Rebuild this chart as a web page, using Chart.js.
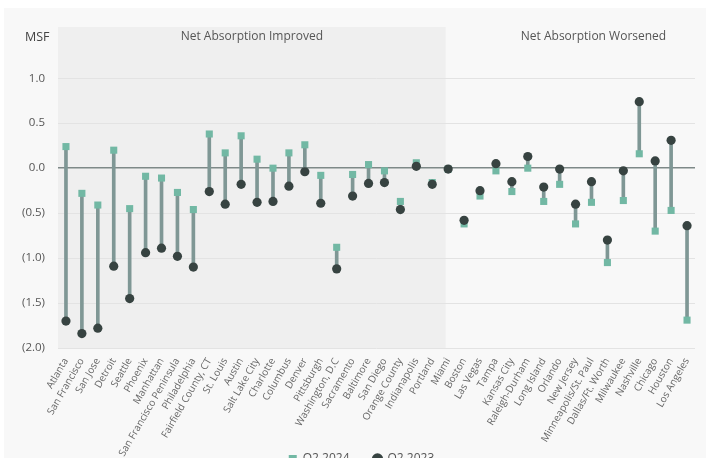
<!DOCTYPE html>
<html>
<head>
<meta charset="utf-8">
<script src="https://cdn.jsdelivr.net/npm/chart.js@4.4.1/dist/chart.umd.min.js"></script>
<style>
  html, body { margin: 0; padding: 0; background: #ffffff; }
  #frame { position: relative; width: 712px; height: 458px; overflow: hidden; }
  #panel { position: absolute; left: 4px; top: 8px; right: 6px; bottom: 0; background: #f8f8f8; }
  #box { position: absolute; left: 0; top: 0; width: 712px; height: 475px; }
</style>
</head>
<body>
<div id="frame">
  <div id="panel"></div>
  <div id="box"><canvas id="chart"></canvas></div>
</div>
<script>
// Markets, grouped: first those whose net absorption improved, then those that worsened
const markets = [
  'Atlanta', 'San Francisco', 'San Jose', 'Detroit', 'Seattle', 'Phoenix', 'Manhattan',
  'San Francisco Peninsula', 'Philadelphia', 'Fairfield County, CT', 'St. Louis', 'Austin',
  'Salt Lake City', 'Charlotte', 'Columbus', 'Denver', 'Pittsburgh', 'Washington, D.C',
  'Sacramento', 'Baltimore', 'San Diego', 'Orange County', 'Indianapolis', 'Portland',
  'Miami', 'Boston', 'Las Vegas', 'Tampa', 'Kansas City', 'Raleigh-Durham', 'Long Island',
  'Orlando', 'New Jersey', 'Minneapolis/St. Paul', 'Dallas/Ft. Worth', 'Milwaukee',
  'Nashville', 'Chicago', 'Houston', 'Los Angeles'
];
const improvedCount = 24;

// Net absorption, MSF
const q2024 = [
  0.24, -0.28, -0.41, 0.20, -0.45, -0.09, -0.11, -0.27, -0.46, 0.38,
  0.17, 0.36, 0.10, 0.00, 0.17, 0.26, -0.08, -0.88, -0.07, 0.04,
  -0.03, -0.37, 0.06, -0.16,
  -0.01, -0.62, -0.31, -0.03, -0.26, 0.00, -0.37, -0.18, -0.62, -0.38,
  -1.05, -0.36, 0.16, -0.70, -0.47, -1.69
];
const q2023 = [
  -1.70, -1.84, -1.78, -1.09, -1.45, -0.94, -0.89, -0.98, -1.10, -0.26,
  -0.40, -0.18, -0.38, -0.37, -0.20, -0.04, -0.39, -1.12, -0.31, -0.17,
  -0.16, -0.46, 0.02, -0.18,
  -0.01, -0.58, -0.25, 0.05, -0.15, 0.13, -0.21, -0.01, -0.40, -0.15,
  -0.80, -0.03, 0.74, 0.08, 0.31, -0.64
];
const yTicks = [-2, -1.5, -1, -0.5, 0, 0.5, 1];
const sectionLabels = ['Net Absorption Improved', 'Net Absorption Worsened'];
const unitLabel = 'MSF';

const stems = q2023.map((v, i) => [v, q2024[i]]);
const FONT = "'Open Sans', 'Noto Sans', sans-serif";
const PLOT_BOTTOM = 348;

// Shaded "improved" band, section captions, unit label and legend placement
const sections = {
  id: 'sections',
  afterLayout(chart) {
    const lg = chart.legend;
    if (lg) { lg.left += 14; lg.right += 14; }
    // let the long rotated market names run down past the axis box
    const x = chart.scales.x;
    if (x) { x.bottom = chart.height; }
  },
  beforeDraw(chart) {
    const { ctx, chartArea: a, scales: { x } } = chart;
    const split = x.getPixelForValue(improvedCount) - 2.5;
    ctx.save();
    ctx.fillStyle = '#efefef';
    ctx.fillRect(a.left, a.top, split - a.left, a.bottom - a.top);
    ctx.restore();
  },
  afterDraw(chart) {
    const { ctx, chartArea: a, scales: { x } } = chart;
    const split = x.getPixelForValue(improvedCount) - 2.5;
    ctx.save();
    ctx.font = '12px ' + FONT;
    ctx.fillStyle = '#555555';
    ctx.textAlign = 'center';
    ctx.textBaseline = 'middle';
    ctx.fillText(sectionLabels[0], (a.left + split) / 2, 37);
    ctx.fillText(sectionLabels[1], x.getPixelForValue(33) + 2, 37);
    ctx.font = '12.5px ' + FONT;
    ctx.fillStyle = '#444444';
    ctx.textAlign = 'left';
    ctx.fillText(unitLabel, 25, 37);
    ctx.restore();
  }
};

const fmt = v => {
  const s = Math.abs(v).toFixed(1);
  return v < 0 ? '(' + s + ')' : s;
};

new Chart(document.getElementById('chart'), {
  type: 'bar',
  data: {
    labels: markets,
    datasets: [
      {
        label: 'change',
        data: stems,
        backgroundColor: '#7f9795',
        borderWidth: 0,
        barThickness: 3,
        order: 3
      },
      {
        type: 'line',
        label: 'Q2 2024',
        data: q2024,
        showLine: false,
        pointStyle: 'rect',
        pointRadius: 5,
        pointBackgroundColor: '#72b8a4',
        pointBorderWidth: 0,
        backgroundColor: '#72b8a4',
        borderColor: '#72b8a4',
        order: 2
      },
      {
        type: 'line',
        label: 'Q2 2023',
        data: q2023,
        showLine: false,
        pointStyle: 'circle',
        pointRadius: 4.6,
        pointBackgroundColor: '#374341',
        pointBorderWidth: 0,
        backgroundColor: '#374341',
        borderColor: '#374341',
        order: 1
      }
    ]
  },
  options: {
    responsive: true,
    maintainAspectRatio: false,
    animation: false,
    layout: { padding: { top: 27, right: 17, left: 0, bottom: 0 } },
    plugins: {
      tooltip: { enabled: false },
      legend: {
        position: 'bottom',
        labels: {
          filter: item => item.datasetIndex !== 0,
          sort: (a, b) => a.datasetIndex - b.datasetIndex,
          usePointStyle: true,
          boxWidth: 8,
          boxHeight: 8,
          padding: 24,
          color: '#555555',
          font: { family: FONT, size: 12 }
        }
      }
    },
    scales: {
      x: {
        afterFit: s => {
          const lh = s.chart.legend ? s.chart.legend.height : 0;
          s.height = s.chart.height - PLOT_BOTTOM - lh;
        },
        grid: { display: false, drawTicks: false },
        border: { display: false },
        ticks: {
          autoSkip: false,
          minRotation: 60,
          maxRotation: 60,
          padding: 8,
          color: '#666666',
          font: { family: FONT, size: 10 }
        }
      },
      y: {
        min: -2,
        max: 1.57,
        afterBuildTicks: s => { s.ticks = yTicks.map(v => ({ value: v })); },
        afterFit: s => { s.width = 58; },
        grid: {
          drawTicks: false,
          color: ctx => ctx.tick && ctx.tick.value === 0 ? '#7e8988' : '#e3e3e3',
          lineWidth: ctx => ctx.tick && ctx.tick.value === 0 ? 1.5 : 1
        },
        border: { display: false },
        ticks: {
          padding: 13,
          color: '#555555',
          font: { family: FONT, size: 11.5 },
          callback: v => fmt(v)
        }
      }
    }
  },
  plugins: [sections]
});
</script>
</body>
</html>
